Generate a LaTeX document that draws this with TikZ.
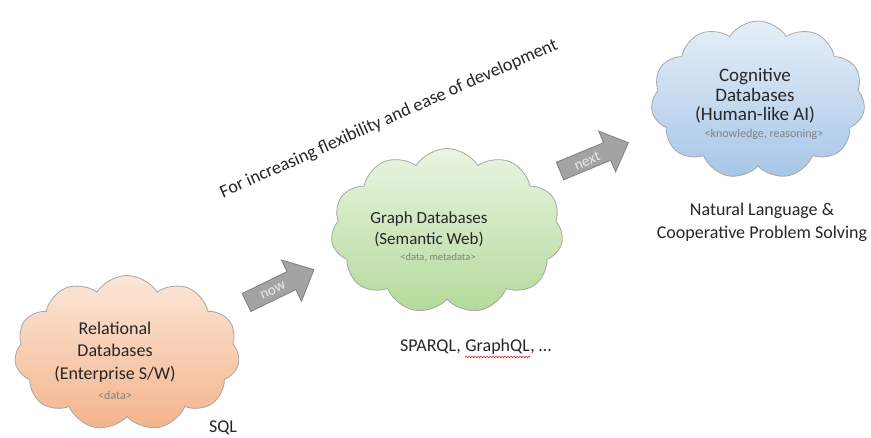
\documentclass[tikz,border=0pt]{standalone}
\usepackage{fontspec}
\setmainfont{Carlito}
\usetikzlibrary{shapes.symbols,decorations.pathmorphing}
\definecolor{txt}{HTML}{262626}
\definecolor{small}{HTML}{808080}
\definecolor{orTop}{HTML}{FBE6D8}
\definecolor{orBot}{HTML}{F4B48C}
\definecolor{grTop}{HTML}{EAF4E2}
\definecolor{grBot}{HTML}{B3DA9A}
\definecolor{blTop}{HTML}{E6EFF8}
\definecolor{blBot}{HTML}{A6C6E7}
\definecolor{cloudedge}{HTML}{A6A6A6}
\definecolor{arrowgray}{HTML}{A3A3A3}
\definecolor{arrowedge}{HTML}{808080}
\begin{document}
\begin{tikzpicture}[x=1pt,y=-1pt,
  cloudbox/.style={cloud, cloud puffs=11, cloud puff arc=115, cloud ignores aspect, draw=cloudedge, line width=0.8pt, inner sep=0pt},
  bigtext/.style={text=txt, align=center, inner sep=0pt, font=\fontsize{18}{22.5}\selectfont},
  smalltext/.style={text=small, inner sep=0pt, font=\fontsize{10.5}{12}\selectfont},
  blockarrow/.style={fill=arrowgray, draw=arrowedge, line width=0.8pt, line join=miter},
  arrowtext/.style={text=white!92!black, inner sep=0pt, font=\fontsize{15}{18}\selectfont},
  plain/.style={text=txt, inner sep=0pt, align=center, font=\fontsize{18}{23}\selectfont}]
\useasboundingbox (0,0) rectangle (871,437);

% clouds
\node[cloudbox, top color=orTop, bottom color=orBot, minimum width=225, minimum height=155] (relcloud) at (127,353) {};
\node[cloudbox, top color=grTop, bottom color=grBot, minimum width=232, minimum height=165] (grcloud) at (447,231) {};
\node[cloudbox, top color=blTop, bottom color=blBot, minimum width=214, minimum height=158] (cogcloud) at (758,100) {};

% cloud texts
\node[bigtext] (reltext) at (115,352) {Relational\\Databases\\(Enterprise S/W)};
\node[smalltext, font=\fontsize{12}{14}\selectfont] (reldata) at (115,395) {<data>};
\node[bigtext, font=\fontsize{17}{21}\selectfont] (grtext) at (429,229) {Graph Databases\\(Semantic Web)};
\node[smalltext] (grdata) at (438,258) {<data, metadata>};
\node[bigtext, font=\fontsize{19}{19.5}\selectfont] (cogtext) at (755,96) {Cognitive\\Databases\\(Human-like AI)};
\node[smalltext, font=\fontsize{12}{14}\selectfont] (cogdata) at (764,134) {<knowledge, reasoning>};

% labels
\node[plain] (sql) at (223,428) {SQL};
\node[plain, anchor=base west] (sp1) at (400,351) {SPARQL,};
\node[plain, anchor=base west] (gql) at ([xshift=4.2pt]sp1.base east) {GraphQL};
\node[plain, anchor=base west] (sp3) at (gql.base east) {, \dots};
\coordinate (sqa) at ([yshift=-6pt]gql.base west);
\coordinate (sqb) at ([yshift=-6pt]gql.base east);
\draw[red!85!black, line width=0.5pt, decorate, decoration={snake, amplitude=0.8pt, segment length=3pt}] (sqa) -- (sqb);
\node[plain] (nl) at (762,222) {Natural Language \&\\Cooperative Problem Solving};
\node[plain, font=\fontsize{18.3}{20}\selectfont, rotate=24] (flex) at (389,119) {For increasing flexibility and ease of development};

% block arrows
\begin{scope}[shift={(246.5,302.5)}, rotate=26]
  \draw[blockarrow] (0,-10) -- (50,-10) -- (50,-23) -- (75,0) -- (50,23) -- (50,10) -- (0,10) -- cycle;
  \node[arrowtext, rotate=26] (now) at (29,1) {now};
\end{scope}
\begin{scope}[shift={(560,171)}, rotate=22.5]
  \draw[blockarrow] (0,-9.5) -- (51,-9.5) -- (51,-22) -- (74,0) -- (51,22) -- (51,9.5) -- (0,9.5) -- cycle;
  \node[arrowtext, rotate=22.5] (next) at (29,1) {next};
\end{scope}
\end{tikzpicture}
\end{document}
